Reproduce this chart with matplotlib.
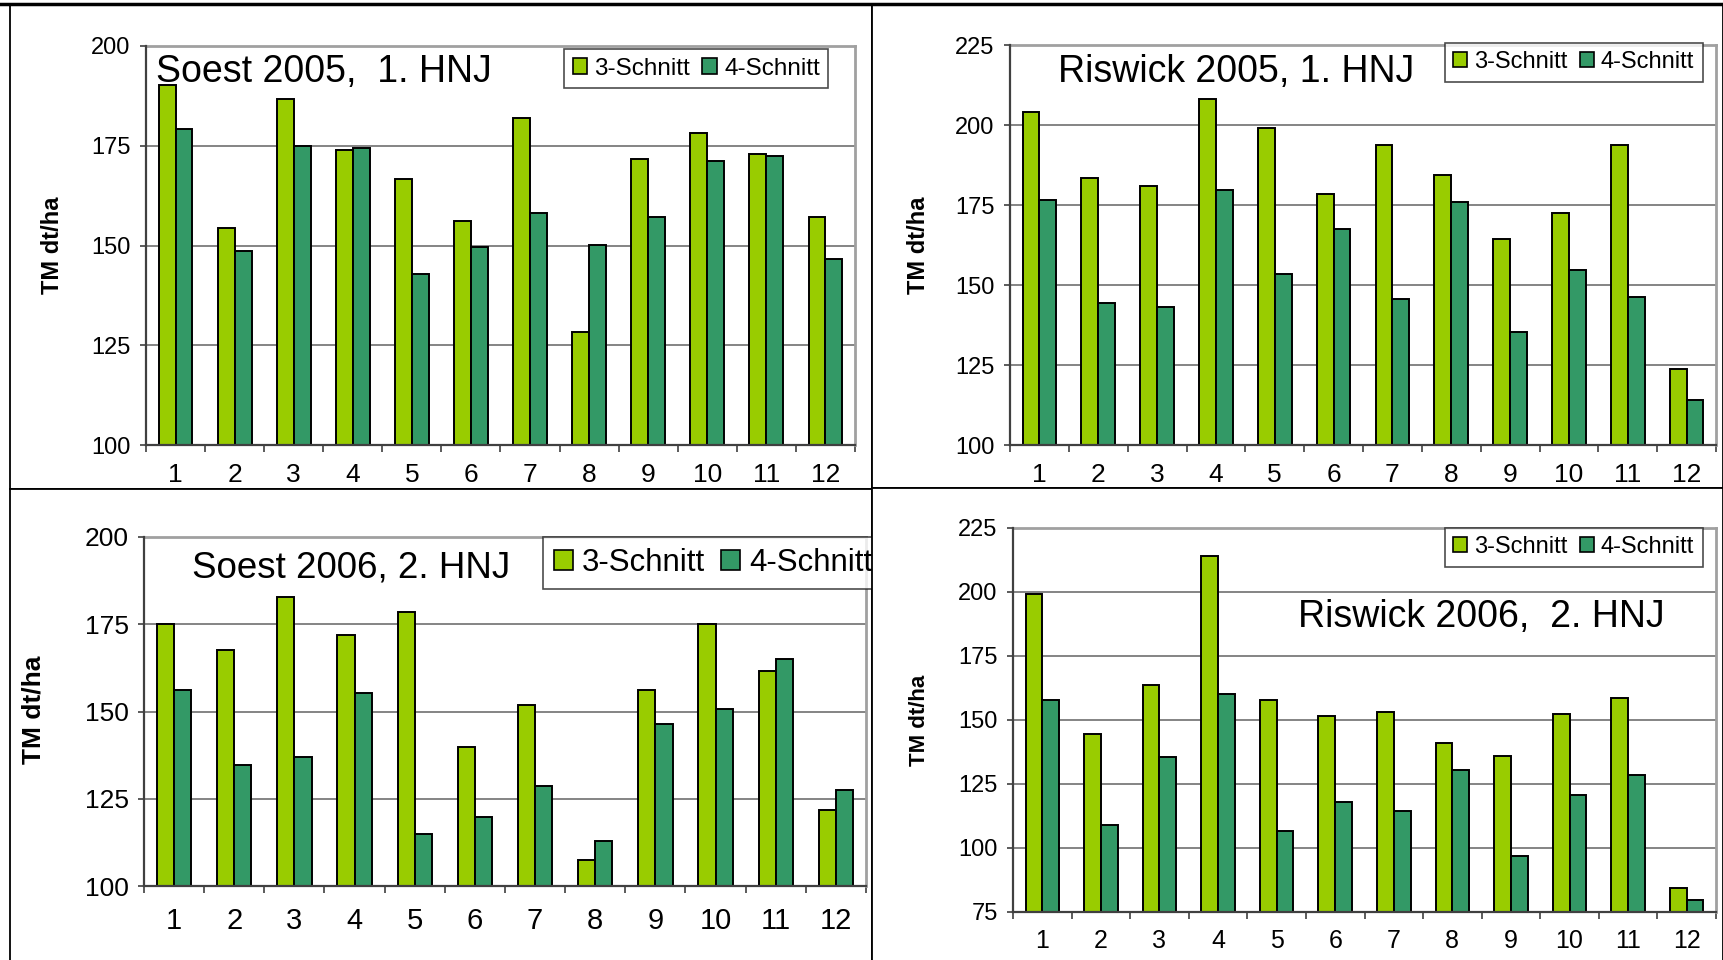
import numpy as np
import matplotlib
matplotlib.use('Agg')
import matplotlib.pyplot as plt
from matplotlib.patches import Patch
from matplotlib.ticker import FixedLocator, MultipleLocator

plt.rcParams['font.family'] = ['Liberation Sans', 'DejaVu Sans']

# values (dt/ha dry matter)
categories = [str(i) for i in range(1, 13)]
series_names = ['3-Schnitt', '4-Schnitt']

soest05_3 = [190.2, 154.5, 186.6, 173.9, 166.6, 156.1, 182.0, 128.2, 171.8, 178.2, 172.9, 157.1]
soest05_4 = [179.2, 148.7, 175.0, 174.5, 142.8, 149.7, 158.1, 150.1, 157.1, 171.3, 172.5, 146.5]

riswick05_3 = [204.1, 183.4, 181.0, 208.0, 199.1, 178.4, 193.9, 184.3, 164.3, 172.6, 193.9, 123.7]
riswick05_4 = [176.6, 144.4, 143.1, 179.7, 153.3, 167.5, 145.6, 175.8, 135.3, 154.7, 146.2, 114.1]

soest06_3 = [175.2, 167.7, 182.8, 171.9, 178.6, 139.7, 151.9, 107.5, 156.1, 175.2, 161.6, 121.8]
soest06_4 = [156.1, 134.8, 137.0, 155.4, 114.9, 119.8, 128.7, 112.9, 146.5, 150.6, 165.0, 127.4]

riswick06_3 = [199.4, 144.5, 163.8, 214.2, 157.7, 151.5, 153.1, 141.2, 136.1, 152.3, 158.4, 84.2]
riswick06_4 = [157.7, 108.9, 135.4, 160.1, 106.6, 118.1, 114.4, 130.6, 97.0, 120.8, 128.6, 79.5]

COL3 = '#99CC00'
COL4 = '#339966'

W, H = 1724, 960


def px_box(x0, y0, x1, y1):
    return [x0 / W, 1 - y1 / H, (x1 - x0) / W, (y1 - y0) / H]


def fx(x):
    return x / W


def fy(y):
    return 1 - y / H


fig = plt.figure(figsize=(W / 100, H / 100), dpi=100)


def draw_panel(frame, plot, ylim, s3, s4, title, title_pos, title_size,
               leg_pos, leg_size, ytick_size, xtick_size, xpad,
               ylabel_pos, ylabel_size, z):
    # white panel frame (covers anything spilling in from the neighbour)
    fr = fig.add_axes(px_box(*frame), zorder=z)
    fr.set_xticks([])
    fr.set_yticks([])
    fr.set_facecolor('white')
    for sp in fr.spines.values():
        sp.set_color('black')
        sp.set_linewidth(1.3)

    ax = fig.add_axes(px_box(*plot), zorder=z + 1)
    ax.set_facecolor('white')
    x = np.arange(len(categories))
    bw = 0.286
    ax.bar(x - bw / 2, s3, bw, bottom=0, color=COL3, edgecolor='black',
           linewidth=1.4, zorder=3)
    ax.bar(x + bw / 2, s4, bw, bottom=0, color=COL4, edgecolor='black',
           linewidth=1.4, zorder=3)
    ax.set_xlim(-0.5, len(categories) - 0.5)
    ax.set_ylim(*ylim)
    ax.yaxis.set_major_locator(MultipleLocator(25))
    ax.grid(axis='y', color='#707070', linewidth=1.2, zorder=1)
    ax.set_axisbelow(True)

    ax.set_xticks(x)
    ax.set_xticklabels(categories, fontsize=xtick_size)
    ax.xaxis.set_minor_locator(FixedLocator(np.arange(-0.5, len(categories), 1.0)))
    ax.tick_params(axis='x', which='major', length=0, pad=xpad)
    ax.tick_params(axis='x', which='minor', length=5, width=1.2,
                   direction='out', color='#404040')
    ax.tick_params(axis='y', length=4, width=1.2, direction='out',
                   color='#404040', labelsize=ytick_size, pad=7)

    for side in ('top', 'right'):
        ax.spines[side].set_color('#a0a0a0')
        ax.spines[side].set_linewidth(2)
    for side in ('left', 'bottom'):
        ax.spines[side].set_color('#404040')
        ax.spines[side].set_linewidth(1.6)
        ax.spines[side].set_zorder(4)

    fig.text(fx(title_pos[0]), fy(title_pos[1]), title, fontsize=title_size,
             ha='left', va='center', zorder=z + 2)
    fig.text(fx(ylabel_pos[0]), fy(ylabel_pos[1]), 'TM dt/ha',
             fontsize=ylabel_size, fontweight='bold', rotation=90,
             ha='center', va='center', zorder=z + 2)

    handles = [Patch(facecolor=COL3, edgecolor='black', linewidth=1.2),
               Patch(facecolor=COL4, edgecolor='black', linewidth=1.2)]
    leg = ax.legend(handles, series_names, loc='upper left',
                    bbox_to_anchor=(fx(leg_pos[0]), fy(leg_pos[1])),
                    bbox_transform=fig.transFigure, ncol=2,
                    fontsize=leg_size, frameon=True, fancybox=False,
                    borderaxespad=0, handlelength=0.6, handleheight=0.6,
                    handletextpad=0.3, columnspacing=0.5, borderpad=0.35)
    leg.get_frame().set_edgecolor('#202020')
    leg.get_frame().set_linewidth(1.2)
    return ax


draw_panel((10, 5, 872, 489), (146, 46, 855, 445), (100, 200),
           soest05_3, soest05_4, 'Soest 2005,  1. HNJ', (156, 72), 27,
           (564, 49), 17.5, 17, 19, 13, (53, 245), 17, 0)

draw_panel((872, 5, 1723, 488), (1010, 45, 1716, 445), (100, 225),
           riswick05_3, riswick05_4, 'Riswick 2005, 1. HNJ', (1058, 72), 27,
           (1445, 43), 17, 17, 19, 13, (919, 245), 17, 2)

draw_panel((10, 489, 872, 965), (144, 537, 866, 886), (100, 200),
           soest06_3, soest06_4, 'Soest 2006, 2. HNJ', (192, 568), 26.5,
           (543, 537), 22.5, 19, 21, 15, (34, 710), 19, 4)

draw_panel((872, 488, 1723, 965), (1013, 528, 1716, 912), (75, 225),
           riswick06_3, riswick06_4, 'Riswick 2006,  2. HNJ', (1298, 617), 27,
           (1445, 528), 17, 17, 18, 12, (920, 720), 16, 6)

# heavy rule along the top edge
fig.add_artist(plt.Line2D([0, 1], [fy(4), fy(4)], color='black',
                          linewidth=2.5, transform=fig.transFigure, zorder=20))

fig.savefig('out.png', dpi=100, facecolor='white')
